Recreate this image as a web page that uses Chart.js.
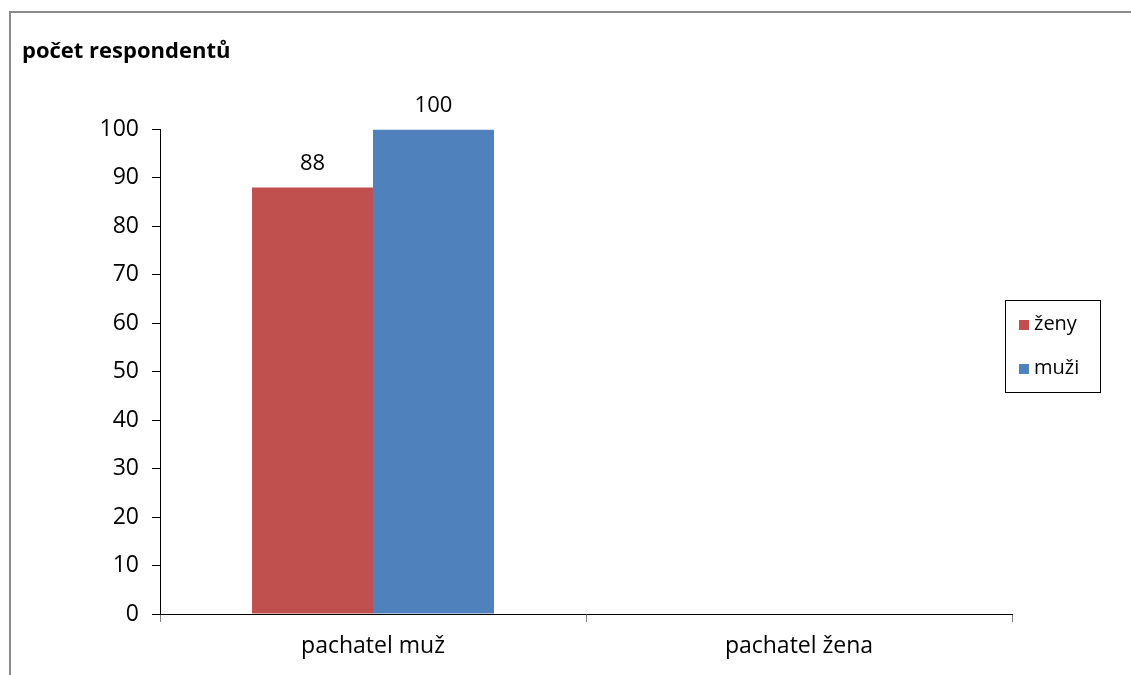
<!DOCTYPE html>
<html>
<head>
<meta charset="utf-8">
<script src="https://cdn.jsdelivr.net/npm/chart.js@4.4.1/dist/chart.umd.min.js"></script>
<style>
  html, body { margin: 0; padding: 0; background: #fff; overflow: hidden; }
  #wrap { position: relative; width: 1131px; height: 675px; }
  #frame { position: absolute; left: 9px; top: 11px; width: 1140px; height: 700px;
           border: 2px solid #8a8a8a; box-sizing: border-box; pointer-events: none; }
  canvas { position: absolute; left: 0; top: 0; }
</style>
</head>
<body>
<div id="wrap">
  <canvas id="chart" width="1131" height="675"></canvas>
  <div id="frame"></div>
</div>
<script>
/* ── Datos ── */
const kategorie = ['pachatel muž', 'pachatel žena'];
const zeny      = [88, null];
const muzi      = [100, null];
const yTicks    = [0, 10, 20, 30, 40, 50, 60, 70, 80, 90, 100];

const FONT = '"Open Sans", "Noto Sans", sans-serif';

/* ── Popisky hodnot nad sloupci ── */
const valueLabels = {
  id: 'valueLabels',
  afterDatasetsDraw(chart) {
    const ctx = chart.ctx;
    ctx.save();
    ctx.font = '22px ' + FONT;
    ctx.fillStyle = '#000';
    ctx.textAlign = 'center';
    ctx.textBaseline = 'middle';
    chart.data.datasets.forEach((ds, di) => {
      chart.getDatasetMeta(di).data.forEach((bar, i) => {
        const v = ds.data[i];
        if (v === null || v === undefined) return;
        ctx.fillText(String(v), bar.x, bar.y - 24);
      });
    });
    ctx.restore();
  }
};

/* ── Legenda vpravo (rámeček) ── */
const boxLegend = {
  id: 'boxLegend',
  afterDraw(chart) {
    const ctx = chart.ctx;
    const x = 1005, y = 300, w = 95, h = 92;
    ctx.save();
    ctx.strokeStyle = '#000';
    ctx.lineWidth = 1;
    ctx.strokeRect(x + 0.5, y + 0.5, w, h);
    ctx.font = '20px ' + FONT;
    ctx.textBaseline = 'middle';
    ctx.textAlign = 'left';
    chart.data.datasets.forEach((ds, i) => {
      const cy = y + 25 + i * 44;
      ctx.fillStyle = ds.backgroundColor;
      ctx.fillRect(x + 14, cy - 5, 10, 10);
      ctx.fillStyle = '#000';
      ctx.fillText(ds.label, x + 29, cy - 1);
    });
    ctx.restore();
  }
};

new Chart(document.getElementById('chart'), {
  type: 'bar',
  data: {
    labels: kategorie,
    datasets: [
      { label: 'ženy', data: zeny, backgroundColor: '#C0504D',
        categoryPercentage: 0.568, barPercentage: 1.0 },
      { label: 'muži', data: muzi, backgroundColor: '#4F81BD',
        categoryPercentage: 0.568, barPercentage: 1.0 },
    ],
  },
  options: {
    responsive: false,
    animation: false,
    layout: { padding: { left: 22, top: 0, right: 119, bottom: 0 } },
    plugins: {
      legend: { display: false },
      tooltip: { enabled: false },
      title: {
        display: true,
        text: 'počet respondentů',
        align: 'start',
        color: '#000',
        font: { family: FONT, size: 22, weight: 'bold' },
        padding: { top: 39, bottom: 64 },
      },
    },
    scales: {
      x: {
        grid: { display: true, drawOnChartArea: false, offset: true,
                color: '#808080', tickLength: 8 },
        border: { display: true, color: '#000', width: 1 },
        ticks: { color: '#000', font: { family: FONT, size: 23 }, padding: 11 },
        afterFit: s => { s.height = 61; },
      },
      y: {
        min: 0, max: 100,
        afterBuildTicks: s => { s.ticks = yTicks.map(v => ({ value: v })); },
        grid: { display: true, drawOnChartArea: false, color: '#000', tickLength: 8 },
        border: { display: true, color: '#000', width: 1 },
        ticks: { color: '#000', font: { family: FONT, size: 23 }, padding: 13 },
        afterFit: s => { s.width = 138; },
      },
    },
  },
  plugins: [valueLabels, boxLegend],
});
</script>
</body>
</html>
